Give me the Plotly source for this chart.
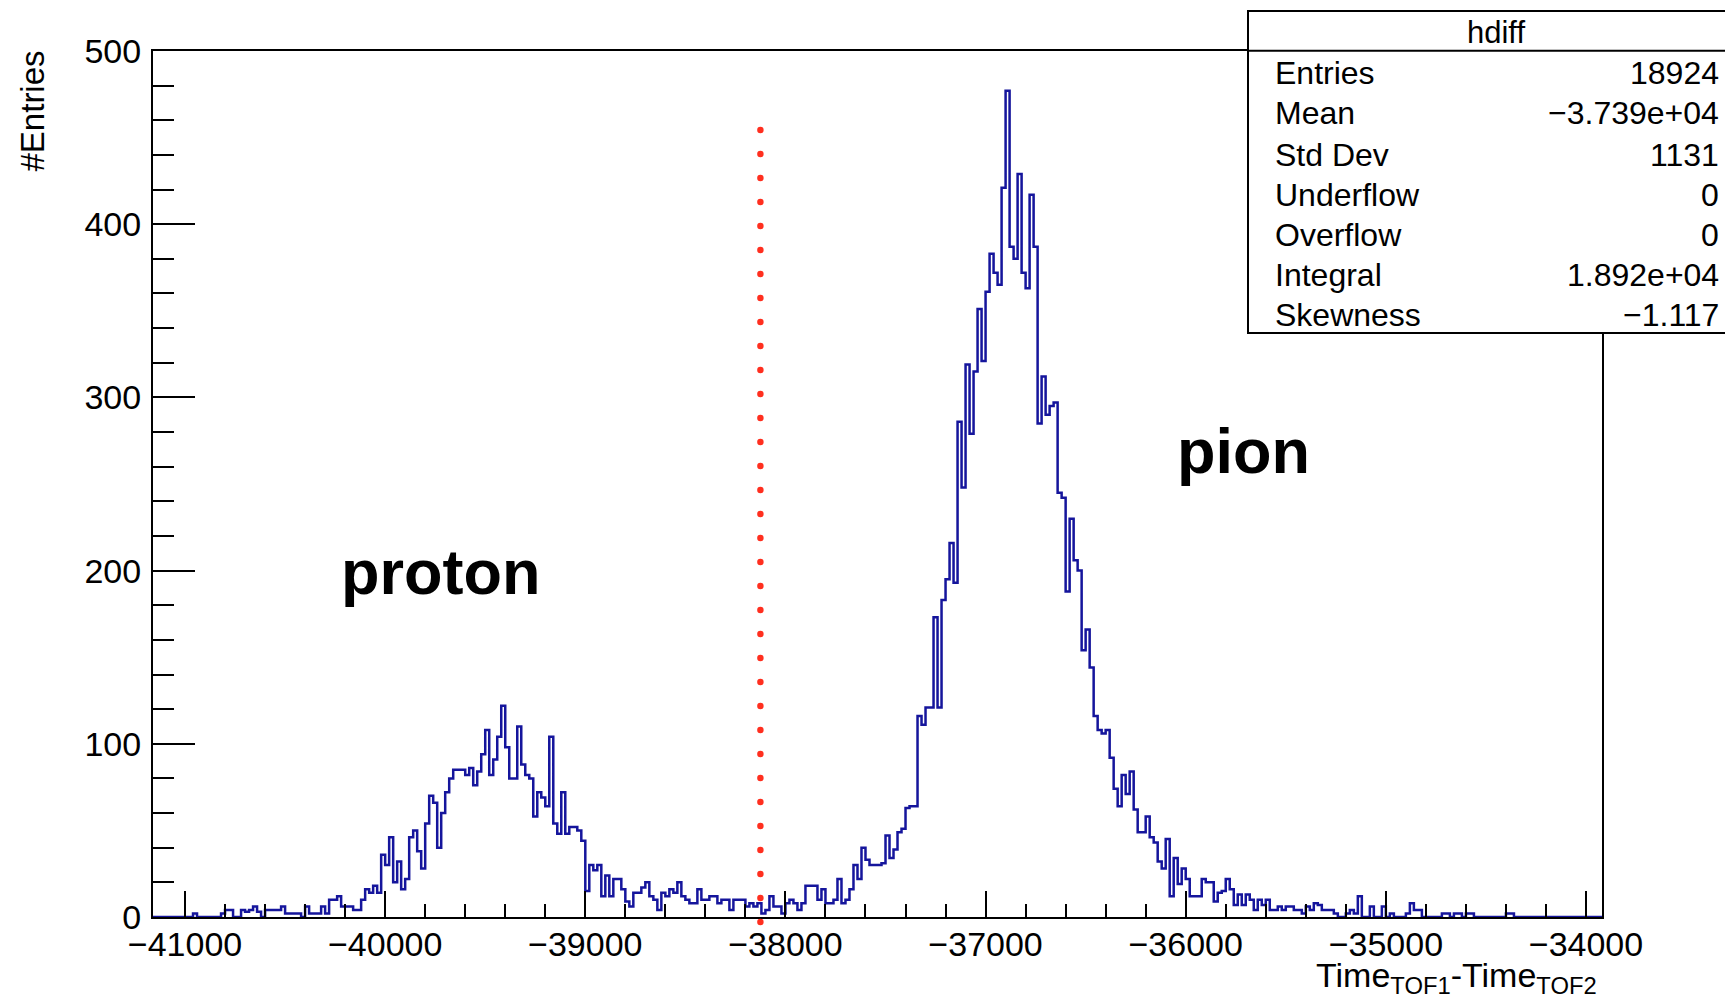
import plotly.graph_objects as go

# ---- histogram "hdiff": Time_TOF1 - Time_TOF2, 362 bins of width 20 ----
X_MIN = -41160
X_MAX = -33920
BIN_WIDTH = 20

# bin contents, split by region (left to right)
counts_left_tail = [0, 0, 0, 0, 0, 0, 0, 0, 0, 0, 2, 0, 0, 0, 0, 0, 0,
                    2, 4, 4, 0, 0, 4, 3, 4, 6, 3, 0, 4, 4, 4, 4, 6, 2, 2,
                    2, 2, 0, 6, 2, 2, 2, 6, 2]
counts_proton = [10, 10, 12, 6, 6, 6, 4, 4, 10, 16,
                 14, 18, 14, 36, 30, 46, 20, 32, 16, 22,
                 46, 50, 38, 28, 54, 70, 66, 40, 60, 72,
                 80, 85, 85, 85, 82, 86, 76, 84, 94, 108,
                 82, 91, 104, 122, 98, 80, 80, 110, 88, 82,
                 80, 58, 72, 69, 64, 104, 54, 48, 72, 48,
                 52, 52, 50, 44, 15, 30, 27, 30, 12, 24,
                 12, 22, 22, 16, 9]
counts_valley = [6, 14, 14, 17, 20, 12, 10, 4, 14, 12,
                 16, 14, 20, 12, 10, 8, 8, 16, 10, 10,
                 12, 12, 8, 10, 10, 4, 10, 10, 10, 6,
                 8, 6, 8, 2, 4, 12, 6, 6, 2, 8,
                 10, 8, 4, 8, 18, 18, 18, 10, 16, 8,
                 8, 10, 22, 8, 10, 16, 30, 22, 40, 33,
                 30, 30, 30]
counts_pion_rise = [31, 47, 34, 39, 49, 51, 63, 64, 64, 116,
                    111, 121, 121, 173, 121, 183, 195, 216, 193, 286,
                    248, 319, 279, 315, 351, 321, 361, 383, 372, 365,
                    421, 477, 387, 380, 429, 372, 363, 417, 387, 285]
counts_pion_fall = [312, 290, 295, 297, 245, 242, 188, 230, 206, 200,
                    154, 166, 144, 116, 108, 106, 108, 92, 74, 64,
                    82, 71, 84, 62, 49, 49, 58, 46, 43, 32,
                    28, 45, 12, 34, 19, 28, 22]
counts_right_tail = [12, 12, 12, 22, 20, 20, 9, 14, 15, 22,
                     16, 7, 13, 7, 13, 10, 4, 10, 7, 10,
                     4, 4, 6, 4, 6, 6, 4, 4, 2, 6,
                     4, 8, 7, 4, 4, 4, 2, 0, 0, 2,
                     4, 2, 12, 0, 0, 6, 0, 0, 6, 0,
                     2, 0,
                     0, 0, 2, 8, 4, 4, 0, 0, 0, 0,
                     0, 2, 2, 0, 2, 2, 0, 2, 2, 0,
                     0, 0, 0, 0, 0, 0, 0, 2, 2, 0,
                     0, 0, 0, 0, 0, 0, 0, 0, 0, 0,
                     0, 0, 0, 0, 0, 0, 0, 0, 0, 0, 0]

counts = (counts_left_tail + counts_proton + counts_valley + counts_pion_rise
          + counts_pion_fall + counts_right_tail)
edges = [X_MIN + BIN_WIDTH * i for i in range(len(counts) + 1)]

# separation cut between the two particle populations
CUT_X = -38125
CUT_TOP = 455

# statistics box contents
stat_names = ["Entries", "Mean", "Std Dev", "Underflow", "Overflow", "Integral", "Skewness"]
stat_values = ["18924", "\u22123.739e+04", "1131", "0", "0", "1.892e+04", "\u22121.117"]

# ---- canvas geometry (pixels) ----
W, H = 1725, 1000
L, R, T, B = 153, 1602, 51, 917
FONT = "Liberation Sans, Arial, Helvetica, sans-serif"


def px_x(px):
    return (px - L) / (R - L)


def px_y(py):
    return (B - py) / (B - T)


fig = go.Figure()

fig.add_trace(go.Scatter(
    x=edges,
    y=counts + [counts[-1]],
    mode="lines",
    line=dict(shape="hv", color="#15159c", width=2.5),
    hoverinfo="skip",
    showlegend=False,
))

shapes = [
    # dotted cut line
    dict(type="line", xref="x", yref="paper",
         x0=CUT_X, x1=CUT_X, y0=px_y(922), y1=CUT_TOP / 500,
         line=dict(color="#ff2f1f", width=6.5, dash="0px,24px"), layer="above"),
    # statistics box
    dict(type="rect", xref="paper", yref="paper",
         x0=px_x(1248), x1=px_x(1740), y0=px_y(333), y1=px_y(11),
         fillcolor="white", line=dict(color="black", width=2), layer="above"),
    dict(type="line", xref="paper", yref="paper",
         x0=px_x(1248), x1=px_x(1740), y0=px_y(50.7), y1=px_y(50.7),
         line=dict(color="black", width=2), layer="above"),
]

annotations = [
    dict(text="hdiff", x=px_x(1496), y=px_y(33), xanchor="center", yanchor="middle",
         font=dict(size=31, family=FONT, color="black")),
    dict(text="<b>proton</b>", x=px_x(440), y=px_y(572), xanchor="center", yanchor="middle",
         font=dict(size=63, family=FONT, color="black")),
    dict(text="<b>pion</b>", x=px_x(1243), y=px_y(451), xanchor="center", yanchor="middle",
         font=dict(size=63, family=FONT, color="black")),
    dict(text="Time<sub>TOF1</sub>-Time<sub>TOF2</sub>", x=px_x(1599), y=px_y(1001),
         xanchor="right", yanchor="bottom",
         font=dict(size=34, family=FONT, color="black")),
    dict(text="#Entries", x=px_x(32), y=px_y(49), xanchor="center", yanchor="top",
         textangle=-90, font=dict(size=33, family=FONT, color="black")),
]
row_y = [73, 113.5, 154.5, 194.5, 234.5, 274.5, 315]
for name, val, yy in zip(stat_names, stat_values, row_y):
    annotations.append(dict(text=name, x=px_x(1273), y=px_y(yy), xanchor="left",
                            yanchor="middle", font=dict(size=32, family=FONT, color="black")))
    annotations.append(dict(text=val, x=px_x(1721), y=px_y(yy), xanchor="right",
                            yanchor="middle", font=dict(size=32, family=FONT, color="black")))
for a in annotations:
    a.update(xref="paper", yref="paper", showarrow=False)

axis_common = dict(
    showgrid=False, zeroline=False,
    showline=True, linecolor="black", linewidth=2, mirror=True,
    ticks="inside", tickcolor="black", tickwidth=2,
    tickfont=dict(size=34, family=FONT, color="black"),
    tickformat="d",
)

fig.update_layout(
    width=W, height=H,
    margin=dict(l=L, r=W - R, t=T, b=H - B, pad=0),
    paper_bgcolor="white", plot_bgcolor="white",
    font=dict(family=FONT, color="black"),
    separators=".",
    xaxis=dict(axis_common, range=[X_MIN, X_MAX], tick0=-41000, dtick=1000, ticklen=26,
               minor=dict(ticks="inside", tick0=-41000, dtick=200, ticklen=13,
                          tickcolor="black", tickwidth=2),
               ticklabelstandoff=-4),
    yaxis=dict(axis_common, range=[0, 500], tick0=0, dtick=100, ticklen=42,
               minor=dict(ticks="inside", dtick=20, ticklen=21,
                          tickcolor="black", tickwidth=2),
               ticklabelstandoff=3),
    shapes=shapes,
    annotations=annotations,
    showlegend=False,
)

round_caps = """
document.querySelectorAll('path').forEach(function(p){
  var d = p.style.strokeDasharray;
  if (d && d !== 'none') { p.style.strokeLinecap = 'round'; }
});
"""

fig.write_html("out.html", post_script=round_caps)
